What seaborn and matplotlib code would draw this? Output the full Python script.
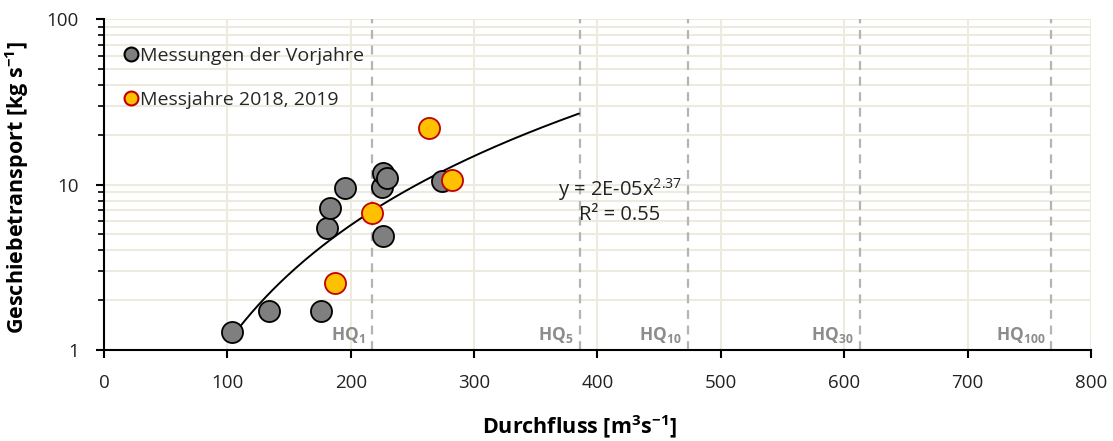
import numpy as np
import pandas as pd
import matplotlib
matplotlib.use("Agg")
import matplotlib.pyplot as plt
import seaborn as sns
from matplotlib.ticker import FixedLocator, FixedFormatter, LogLocator, NullFormatter

# Measurements of previous years: discharge [m3/s], bedload transport [kg/s]
q_prev = [103.5, 134, 176, 180.5, 183.6, 195.2, 225.5, 226.3, 226.3, 229.6, 273.7]
g_prev = [1.28, 1.72, 1.72, 5.47, 7.25, 9.5, 9.6, 4.88, 11.8, 10.9, 10.5]

# Measurement years 2018, 2019
q_new = [187.1, 217.4, 263.4, 282.3]
g_new = [2.55, 6.7, 22.0, 10.65]

# Power-law trendline y = a * x^b
trend_a = 2e-05
trend_b = 2.37
trend_r2 = 0.55
trend_range = [103, 385]

# Flood discharges HQ_n
hq_names = ["1", "5", "10", "30", "100"]
hq_values = [217, 385.5, 473, 612.5, 768]

x_ticks = [0, 100, 200, 300, 400, 500, 600, 700, 800]
y_ticks = [1, 10, 100]
y_tick_labels = ["1", "10", "100"]

sns.set_theme(style="white")
plt.rcParams["font.family"] = ["Open Sans", "DejaVu Sans"]
plt.rcParams["mathtext.fontset"] = "custom"
plt.rcParams["mathtext.rm"] = "Open Sans"
plt.rcParams["mathtext.bf"] = "Open Sans:bold"

fig = plt.figure(figsize=(11.13, 4.41), dpi=100)
ax = fig.add_axes([0.0934, 0.2063, 0.8868, 0.7506])

grid_col = "#EDEADF"
ax.set_xlim(0, 800)
ax.set_yscale("log")
ax.set_ylim(1, 100)

# gridlines
for xv in x_ticks[1:]:
    ax.axvline(xv, color=grid_col, lw=1.5, zorder=0)
for dec in [1, 10]:
    for m in range(2, 11):
        ax.axhline(dec * m, color=grid_col, lw=1.5, zorder=0)

# HQ lines and labels
for name, val in zip(hq_names, hq_values):
    ax.axvline(val, color="#B4B4B4", lw=1.6, ls=(0, (4, 3)), zorder=1)
    ax.text(val - 5, 1.15, r"$\mathbf{HQ}_{\mathbf{" + name + "}}$",
            color="#8C8C8C", fontsize=12.5, ha="right", va="baseline",
            fontweight="bold", zorder=2)

# trendline
xs = np.linspace(trend_range[0], trend_range[1], 200)
ax.plot(xs, trend_a * xs ** trend_b, color="black", lw=1.4, zorder=3)

df_prev = pd.DataFrame({"Q": q_prev, "G": g_prev})
df_new = pd.DataFrame({"Q": q_new, "G": g_new})
sns.scatterplot(data=df_prev, x="Q", y="G", ax=ax, s=230, color="#7F7F7F",
                edgecolor="black", linewidth=1.3, zorder=4, legend=False)
sns.scatterplot(data=df_new, x="Q", y="G", ax=ax, s=230, color="#FFC000",
                edgecolor="#C00000", linewidth=1.3, zorder=5, legend=False)

# equation label
ax.text(418, 8.6, "y = 2E-05x$^{2.37}$", ha="center", va="baseline", fontsize=14.5, color="#222222")
ax.text(418, 6.1, f"R² = {trend_r2:.2f}", ha="center", va="baseline", fontsize=14.5, color="#222222")

# legend
leg_items = [
    plt.Line2D([], [], ls="", marker="o", markersize=10, markerfacecolor="#7F7F7F",
               markeredgecolor="black", markeredgewidth=1.5, label="Messungen der Vorjahre"),
    plt.Line2D([], [], ls="", marker="o", markersize=10, markerfacecolor="#FFC000",
               markeredgecolor="#C00000", markeredgewidth=1.5, label="Messjahre 2018, 2019"),
]
ax.legend(handles=leg_items, loc="upper left", bbox_to_anchor=(0.004, 0.958), frameon=False,
          fontsize=14, handletextpad=-0.05, labelspacing=1.37, borderaxespad=0.3,
          handlelength=1.0, facecolor="white")

# axes styling
for side in ["top", "right"]:
    ax.spines[side].set_visible(False)
for side in ["left", "bottom"]:
    ax.spines[side].set_color("black")
    ax.spines[side].set_linewidth(1.5)
ax.xaxis.set_major_locator(FixedLocator(x_ticks))
ax.yaxis.set_major_locator(FixedLocator(y_ticks))
ax.yaxis.set_major_formatter(FixedFormatter(y_tick_labels))
ax.yaxis.set_minor_locator(LogLocator(base=10, subs=np.arange(2, 10)))
ax.yaxis.set_minor_formatter(NullFormatter())
ax.tick_params(axis="both", which="major", direction="out", length=6, width=1.5,
               color="black", labelsize=13.5, labelcolor="#222222", left=True, bottom=True)
ax.tick_params(axis="y", which="minor", direction="out", length=4, width=1.2,
               color="black", left=True)
ax.tick_params(axis="y", which="major", pad=12)
ax.tick_params(axis="x", which="major", pad=11)

ax.set_xlabel("Durchfluss [m$^{\\mathbf{3}}$s$^{\\mathbf{-1}}$]", fontsize=15.5, fontweight="bold",
              color="black")
ax.xaxis.set_label_coords(0.482, -0.193)
ax.set_ylabel("Geschiebetransport [kg s$^{\\mathbf{-1}}$]", fontsize=15.5, fontweight="bold",
              color="black")
ax.yaxis.set_label_coords(-0.074, 0.49)
ax.patch.set_alpha(0)

fig.savefig("out.png", dpi=100, facecolor="white")
